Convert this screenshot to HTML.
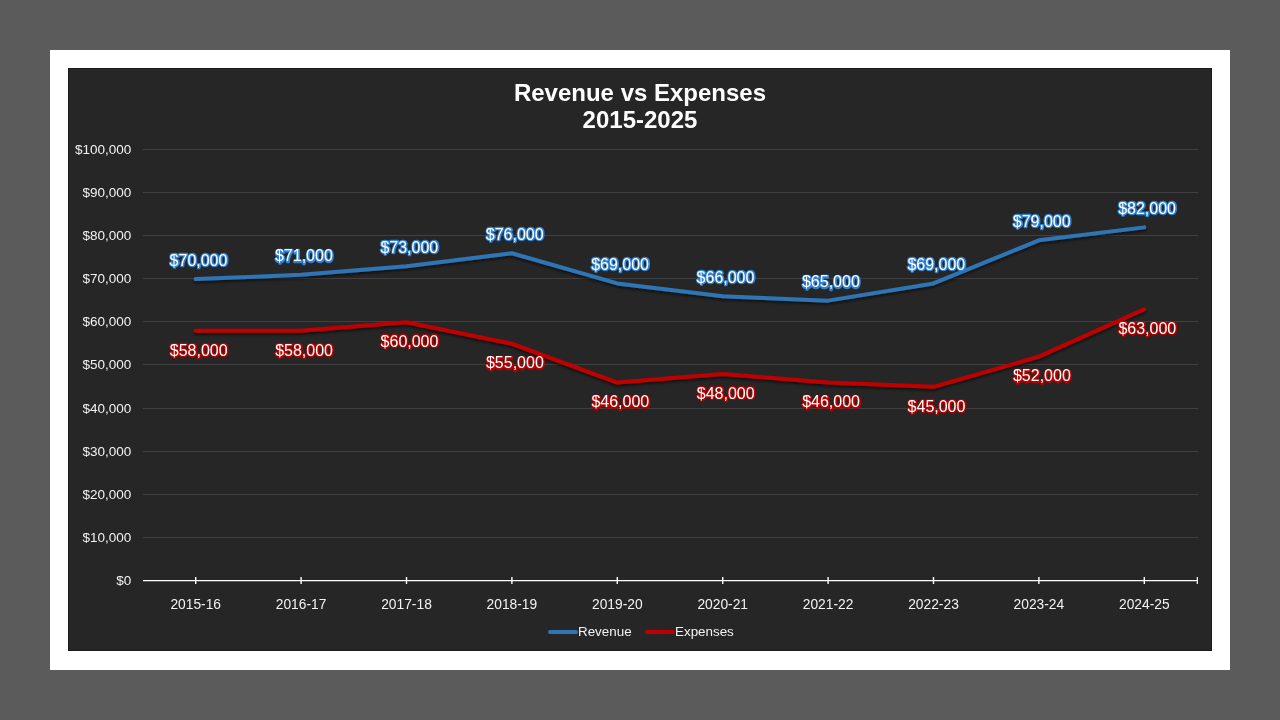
<!DOCTYPE html>
<html><head><meta charset="utf-8"><style>
html,body{margin:0;padding:0;width:1280px;height:720px;overflow:hidden;background:#5b5b5b;}
svg{position:absolute;left:0;top:0;will-change:transform;}
text{font-family:"Liberation Sans", sans-serif;}
</style></head><body>
<svg width="1280" height="720" viewBox="0 0 1280 720">
<defs>
<filter id="sh" x="-5%" y="-20%" width="110%" height="160%">
<feGaussianBlur in="SourceAlpha" stdDeviation="1.5"/>
<feOffset dx="0" dy="2" result="b"/>
<feComponentTransfer><feFuncA type="linear" slope="0.6"/></feComponentTransfer>
<feMerge><feMergeNode/><feMergeNode in="SourceGraphic"/></feMerge>
</filter>
</defs>
<rect x="50" y="50" width="1180" height="620" fill="#ffffff"/>
<rect x="68" y="68" width="1144" height="583" fill="#1b1b1b"/>
<rect x="69" y="69" width="1142" height="581" fill="#262626"/>

<text x="640" y="101.2" text-anchor="middle" font-size="24" font-weight="bold" fill="#ffffff">Revenue vs Expenses</text>
<text x="640" y="128.2" text-anchor="middle" font-size="24" font-weight="bold" fill="#ffffff">2015-2025</text>
<line x1="143" x2="1198" y1="537.50" y2="537.50" stroke="#404040" stroke-width="1"/>
<line x1="143" x2="1198" y1="494.50" y2="494.50" stroke="#404040" stroke-width="1"/>
<line x1="143" x2="1198" y1="451.50" y2="451.50" stroke="#404040" stroke-width="1"/>
<line x1="143" x2="1198" y1="408.50" y2="408.50" stroke="#404040" stroke-width="1"/>
<line x1="143" x2="1198" y1="364.50" y2="364.50" stroke="#404040" stroke-width="1"/>
<line x1="143" x2="1198" y1="321.50" y2="321.50" stroke="#404040" stroke-width="1"/>
<line x1="143" x2="1198" y1="278.50" y2="278.50" stroke="#404040" stroke-width="1"/>
<line x1="143" x2="1198" y1="235.50" y2="235.50" stroke="#404040" stroke-width="1"/>
<line x1="143" x2="1198" y1="192.50" y2="192.50" stroke="#404040" stroke-width="1"/>
<line x1="143" x2="1198" y1="149.50" y2="149.50" stroke="#404040" stroke-width="1"/>
<text x="131.3" y="585.40" text-anchor="end" font-size="13.5" fill="#f2f2f2">$0</text>
<text x="131.3" y="542.40" text-anchor="end" font-size="13.5" fill="#f2f2f2">$10,000</text>
<text x="131.3" y="499.40" text-anchor="end" font-size="13.5" fill="#f2f2f2">$20,000</text>
<text x="131.3" y="456.40" text-anchor="end" font-size="13.5" fill="#f2f2f2">$30,000</text>
<text x="131.3" y="413.40" text-anchor="end" font-size="13.5" fill="#f2f2f2">$40,000</text>
<text x="131.3" y="369.40" text-anchor="end" font-size="13.5" fill="#f2f2f2">$50,000</text>
<text x="131.3" y="326.40" text-anchor="end" font-size="13.5" fill="#f2f2f2">$60,000</text>
<text x="131.3" y="283.40" text-anchor="end" font-size="13.5" fill="#f2f2f2">$70,000</text>
<text x="131.3" y="240.40" text-anchor="end" font-size="13.5" fill="#f2f2f2">$80,000</text>
<text x="131.3" y="197.40" text-anchor="end" font-size="13.5" fill="#f2f2f2">$90,000</text>
<text x="131.3" y="154.40" text-anchor="end" font-size="13.5" fill="#f2f2f2">$100,000</text>
<line x1="143" x2="1197.5" y1="580.6" y2="580.6" stroke="#ffffff" stroke-width="1.4"/>
<line x1="195.70" x2="195.70" y1="577" y2="584" stroke="#ffffff" stroke-width="1.4"/>
<line x1="301.10" x2="301.10" y1="577" y2="584" stroke="#ffffff" stroke-width="1.4"/>
<line x1="406.50" x2="406.50" y1="577" y2="584" stroke="#ffffff" stroke-width="1.4"/>
<line x1="511.90" x2="511.90" y1="577" y2="584" stroke="#ffffff" stroke-width="1.4"/>
<line x1="617.30" x2="617.30" y1="577" y2="584" stroke="#ffffff" stroke-width="1.4"/>
<line x1="722.70" x2="722.70" y1="577" y2="584" stroke="#ffffff" stroke-width="1.4"/>
<line x1="828.10" x2="828.10" y1="577" y2="584" stroke="#ffffff" stroke-width="1.4"/>
<line x1="933.50" x2="933.50" y1="577" y2="584" stroke="#ffffff" stroke-width="1.4"/>
<line x1="1038.90" x2="1038.90" y1="577" y2="584" stroke="#ffffff" stroke-width="1.4"/>
<line x1="1144.30" x2="1144.30" y1="577" y2="584" stroke="#ffffff" stroke-width="1.4"/>
<line x1="1197.3" x2="1197.3" y1="577" y2="584" stroke="#ffffff" stroke-width="1.2"/>
<text x="195.70" y="609" text-anchor="middle" font-size="13.8" fill="#f2f2f2">2015-16</text>
<text x="301.10" y="609" text-anchor="middle" font-size="13.8" fill="#f2f2f2">2016-17</text>
<text x="406.50" y="609" text-anchor="middle" font-size="13.8" fill="#f2f2f2">2017-18</text>
<text x="511.90" y="609" text-anchor="middle" font-size="13.8" fill="#f2f2f2">2018-19</text>
<text x="617.30" y="609" text-anchor="middle" font-size="13.8" fill="#f2f2f2">2019-20</text>
<text x="722.70" y="609" text-anchor="middle" font-size="13.8" fill="#f2f2f2">2020-21</text>
<text x="828.10" y="609" text-anchor="middle" font-size="13.8" fill="#f2f2f2">2021-22</text>
<text x="933.50" y="609" text-anchor="middle" font-size="13.8" fill="#f2f2f2">2022-23</text>
<text x="1038.90" y="609" text-anchor="middle" font-size="13.8" fill="#f2f2f2">2023-24</text>
<text x="1144.30" y="609" text-anchor="middle" font-size="13.8" fill="#f2f2f2">2024-25</text>
<polyline points="195.70,279.10 301.10,274.79 406.50,266.17 511.90,253.24 617.30,283.41 722.70,296.34 828.10,300.65 933.50,283.41 1038.90,240.31 1144.30,227.38" fill="none" stroke="#2e75b6" stroke-width="4" stroke-linecap="round" stroke-linejoin="round" filter="url(#sh)"/>
<polyline points="195.70,330.82 301.10,330.82 406.50,322.20 511.90,343.75 617.30,382.54 722.70,373.92 828.10,382.54 933.50,386.85 1038.90,356.68 1144.30,309.27" fill="none" stroke="#c00000" stroke-width="4" stroke-linecap="round" stroke-linejoin="round" filter="url(#sh)"/>
<text x="198.90" y="266.00" text-anchor="middle" font-size="16" fill="#2f83d6" stroke="#2f83d6" stroke-width="2.6" stroke-linejoin="round">$70,000</text>
<text x="198.50" y="265.60" text-anchor="middle" font-size="16" fill="#ffffff">$70,000</text>
<text x="304.30" y="261.69" text-anchor="middle" font-size="16" fill="#2f83d6" stroke="#2f83d6" stroke-width="2.6" stroke-linejoin="round">$71,000</text>
<text x="303.90" y="261.29" text-anchor="middle" font-size="16" fill="#ffffff">$71,000</text>
<text x="409.70" y="253.07" text-anchor="middle" font-size="16" fill="#2f83d6" stroke="#2f83d6" stroke-width="2.6" stroke-linejoin="round">$73,000</text>
<text x="409.30" y="252.67" text-anchor="middle" font-size="16" fill="#ffffff">$73,000</text>
<text x="515.10" y="240.14" text-anchor="middle" font-size="16" fill="#2f83d6" stroke="#2f83d6" stroke-width="2.6" stroke-linejoin="round">$76,000</text>
<text x="514.70" y="239.74" text-anchor="middle" font-size="16" fill="#ffffff">$76,000</text>
<text x="620.50" y="270.31" text-anchor="middle" font-size="16" fill="#2f83d6" stroke="#2f83d6" stroke-width="2.6" stroke-linejoin="round">$69,000</text>
<text x="620.10" y="269.91" text-anchor="middle" font-size="16" fill="#ffffff">$69,000</text>
<text x="725.90" y="283.24" text-anchor="middle" font-size="16" fill="#2f83d6" stroke="#2f83d6" stroke-width="2.6" stroke-linejoin="round">$66,000</text>
<text x="725.50" y="282.84" text-anchor="middle" font-size="16" fill="#ffffff">$66,000</text>
<text x="831.30" y="287.55" text-anchor="middle" font-size="16" fill="#2f83d6" stroke="#2f83d6" stroke-width="2.6" stroke-linejoin="round">$65,000</text>
<text x="830.90" y="287.15" text-anchor="middle" font-size="16" fill="#ffffff">$65,000</text>
<text x="936.70" y="270.31" text-anchor="middle" font-size="16" fill="#2f83d6" stroke="#2f83d6" stroke-width="2.6" stroke-linejoin="round">$69,000</text>
<text x="936.30" y="269.91" text-anchor="middle" font-size="16" fill="#ffffff">$69,000</text>
<text x="1042.10" y="227.21" text-anchor="middle" font-size="16" fill="#2f83d6" stroke="#2f83d6" stroke-width="2.6" stroke-linejoin="round">$79,000</text>
<text x="1041.70" y="226.81" text-anchor="middle" font-size="16" fill="#ffffff">$79,000</text>
<text x="1147.50" y="214.28" text-anchor="middle" font-size="16" fill="#2f83d6" stroke="#2f83d6" stroke-width="2.6" stroke-linejoin="round">$82,000</text>
<text x="1147.10" y="213.88" text-anchor="middle" font-size="16" fill="#ffffff">$82,000</text>
<text x="199.10" y="355.92" text-anchor="middle" font-size="16" fill="#b80000" stroke="#b80000" stroke-width="2.6" stroke-linejoin="round">$58,000</text>
<text x="198.70" y="355.52" text-anchor="middle" font-size="16" fill="#ffffff">$58,000</text>
<text x="304.50" y="355.92" text-anchor="middle" font-size="16" fill="#b80000" stroke="#b80000" stroke-width="2.6" stroke-linejoin="round">$58,000</text>
<text x="304.10" y="355.52" text-anchor="middle" font-size="16" fill="#ffffff">$58,000</text>
<text x="409.90" y="347.30" text-anchor="middle" font-size="16" fill="#b80000" stroke="#b80000" stroke-width="2.6" stroke-linejoin="round">$60,000</text>
<text x="409.50" y="346.90" text-anchor="middle" font-size="16" fill="#ffffff">$60,000</text>
<text x="515.30" y="368.85" text-anchor="middle" font-size="16" fill="#b80000" stroke="#b80000" stroke-width="2.6" stroke-linejoin="round">$55,000</text>
<text x="514.90" y="368.45" text-anchor="middle" font-size="16" fill="#ffffff">$55,000</text>
<text x="620.70" y="407.64" text-anchor="middle" font-size="16" fill="#b80000" stroke="#b80000" stroke-width="2.6" stroke-linejoin="round">$46,000</text>
<text x="620.30" y="407.24" text-anchor="middle" font-size="16" fill="#ffffff">$46,000</text>
<text x="726.10" y="399.02" text-anchor="middle" font-size="16" fill="#b80000" stroke="#b80000" stroke-width="2.6" stroke-linejoin="round">$48,000</text>
<text x="725.70" y="398.62" text-anchor="middle" font-size="16" fill="#ffffff">$48,000</text>
<text x="831.50" y="407.64" text-anchor="middle" font-size="16" fill="#b80000" stroke="#b80000" stroke-width="2.6" stroke-linejoin="round">$46,000</text>
<text x="831.10" y="407.24" text-anchor="middle" font-size="16" fill="#ffffff">$46,000</text>
<text x="936.90" y="411.95" text-anchor="middle" font-size="16" fill="#b80000" stroke="#b80000" stroke-width="2.6" stroke-linejoin="round">$45,000</text>
<text x="936.50" y="411.55" text-anchor="middle" font-size="16" fill="#ffffff">$45,000</text>
<text x="1042.30" y="381.78" text-anchor="middle" font-size="16" fill="#b80000" stroke="#b80000" stroke-width="2.6" stroke-linejoin="round">$52,000</text>
<text x="1041.90" y="381.38" text-anchor="middle" font-size="16" fill="#ffffff">$52,000</text>
<text x="1147.70" y="334.37" text-anchor="middle" font-size="16" fill="#b80000" stroke="#b80000" stroke-width="2.6" stroke-linejoin="round">$63,000</text>
<text x="1147.30" y="333.97" text-anchor="middle" font-size="16" fill="#ffffff">$63,000</text>
<line x1="550" x2="576" y1="632" y2="632" stroke="#2e75b6" stroke-width="4" stroke-linecap="round"/>
<text x="578" y="636" font-size="13.4" fill="#f2f2f2">Revenue</text>
<line x1="647" x2="673" y1="632" y2="632" stroke="#c00000" stroke-width="4" stroke-linecap="round"/>
<text x="675" y="636" font-size="13.4" fill="#f2f2f2">Expenses</text>
</svg></body></html>
